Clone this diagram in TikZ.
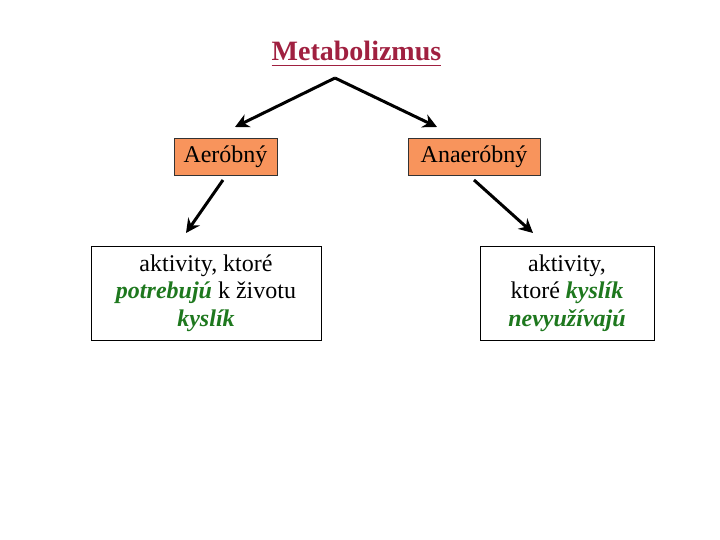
\documentclass[tikz,border=0pt]{standalone}
\usepackage{fontspec}
\setmainfont{Liberation Serif}
\usetikzlibrary{arrows.meta}
\definecolor{titlered}{RGB}{160,32,64}
\definecolor{boxorange}{RGB}{248,148,92}
\definecolor{kgreen}{RGB}{30,120,30}
\tikzset{
  catbox/.style={draw=black!80, fill=boxorange, line width=0.8pt, inner sep=0pt, font=\fontsize{24}{27}\selectfont},
  txtbox/.style={draw=black, fill=white, line width=0.8pt, inner sep=0pt, align=center, font=\fontsize{24}{27.5}\selectfont},
  arr/.style={line width=3pt, -{Stealth[length=14pt, width=14pt]}},
}
\newcommand{\gr}[1]{\textcolor{kgreen}{\textbf{\textit{#1}}}}
\begin{document}
\begin{tikzpicture}[x=1pt,y=-1pt]
\useasboundingbox (0,0) rectangle (720,540);
\node[font=\fontsize{28}{30}\selectfont\bfseries, text=titlered, inner sep=0pt, anchor=base] (title) at (356.5,61) {Metabolizmus};
\draw[titlered, line width=1.6pt] ([yshift=-4.5pt]title.base west) -- ([yshift=-4.5pt]title.base east);
\coordinate (top) at (335,78);
\coordinate (la) at (235,127);
\coordinate (ra) at (437,127);
\node[catbox, minimum width=103pt, minimum height=37pt] (aer) at (225.5,156.5) {Aeróbný};
\node[catbox, minimum width=132pt, minimum height=37pt] (ana) at (474,156.5) {Anaeróbný};
\node[txtbox, minimum width=230pt, minimum height=94pt] (lt) at (206,293) {aktivity, ktoré\\\gr{potrebujú} k životu\\\gr{kyslík}};
\node[txtbox, minimum width=174pt, minimum height=94pt] (rt) at (567,293) {aktivity,\\ktoré \gr{kyslík}\\\gr{nevyužívajú}};
\coordinate (l1) at (223,180);
\coordinate (l2) at (186,233);
\coordinate (r1) at (474,180);
\coordinate (r2) at (533,233);
\draw[arr] (top) -- (la);
\draw[arr] (top) -- (ra);
\draw[arr] (l1) -- (l2);
\draw[arr] (r1) -- (r2);
\end{tikzpicture}
\end{document}
